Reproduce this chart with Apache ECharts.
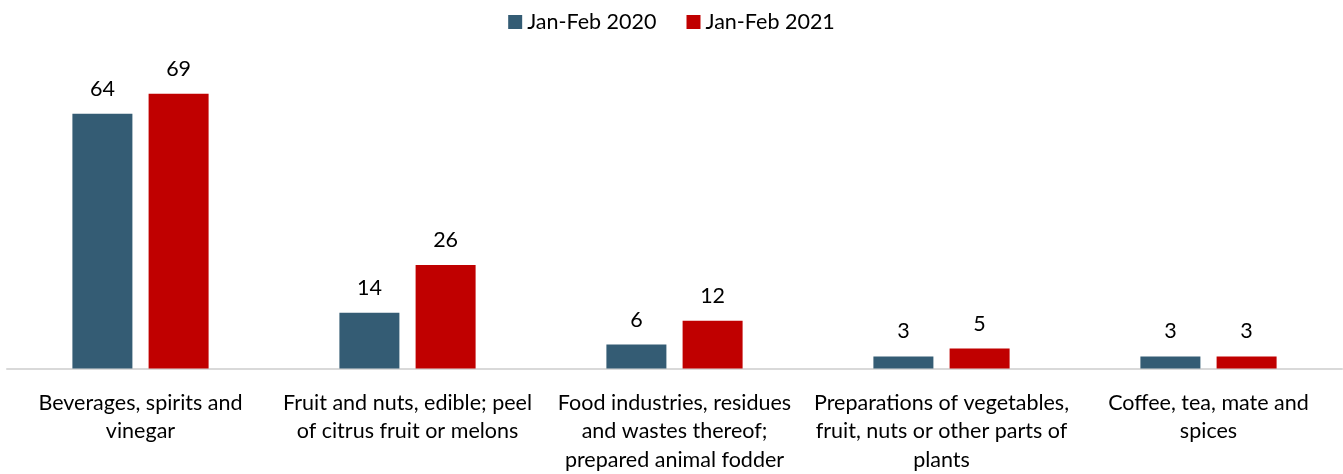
<!DOCTYPE html>
<html>
<head>
<meta charset="utf-8">
<script src="https://cdn.jsdelivr.net/npm/echarts@6/dist/echarts.min.js"></script>
<style>
  html, body { margin: 0; padding: 0; background: #fff; }
  #chart { width: 1343px; height: 474px; }
</style>
</head>
<body>
<div id="chart"></div>
<script>
// Product groups (line breaks give the wrapped axis labels)
const categories = [
  'Beverages, spirits and\nvinegar',
  'Fruit and nuts, edible; peel\nof citrus fruit or melons',
  'Food industries, residues\nand wastes thereof;\nprepared animal fodder',
  'Preparations of vegetables,\nfruit, nuts or other parts of\nplants',
  'Coffee, tea, mate and\nspices'
];
const seriesNames = ['Jan-Feb 2020', 'Jan-Feb 2021'];
const values2020 = [64, 14, 6, 3, 3];
const values2021 = [69, 26, 12, 5, 3];

const FONT = 'Lato, "Open Sans", sans-serif';
const FONT_SIZE = 21.5;
const colors = ['#345c74', '#c00000'];

const chart = echarts.init(document.getElementById('chart'));

const labelStyle = {
  show: true,
  position: 'top',
  distance: 14,
  color: '#000',
  fontFamily: FONT,
  fontSize: FONT_SIZE
};

chart.setOption({
  animation: false,
  color: colors,
  legend: {
    top: 6,
    left: 'center',
    itemWidth: 14,
    itemHeight: 14,
    itemGap: 30,
    icon: 'rect',
    textStyle: { fontFamily: FONT, fontSize: FONT_SIZE, color: '#000' },
    data: seriesNames
  },
  grid: { left: 7, right: 1, top: 50, bottom: 101, containLabel: false },
  xAxis: {
    type: 'category',
    data: categories,
    axisLine: { lineStyle: { color: '#d9d9d9', width: 2 } },
    axisTick: { show: false },
    axisLabel: {
      interval: 0,
      margin: 20,
      color: '#000',
      fontFamily: FONT,
      fontSize: FONT_SIZE,
      lineHeight: 28.5,
      align: 'center'
    }
  },
  yAxis: {
    type: 'value',
    min: 0,
    max: 80,
    show: false,
    splitLine: { show: false }
  },
  series: [
    {
      name: seriesNames[0],
      type: 'bar',
      data: values2020,
      barWidth: 60,
      barGap: '27%',
      label: labelStyle
    },
    {
      name: seriesNames[1],
      type: 'bar',
      data: values2021,
      barWidth: 60,
      barGap: '27%',
      label: labelStyle
    }
  ]
});
</script>
</body>
</html>
